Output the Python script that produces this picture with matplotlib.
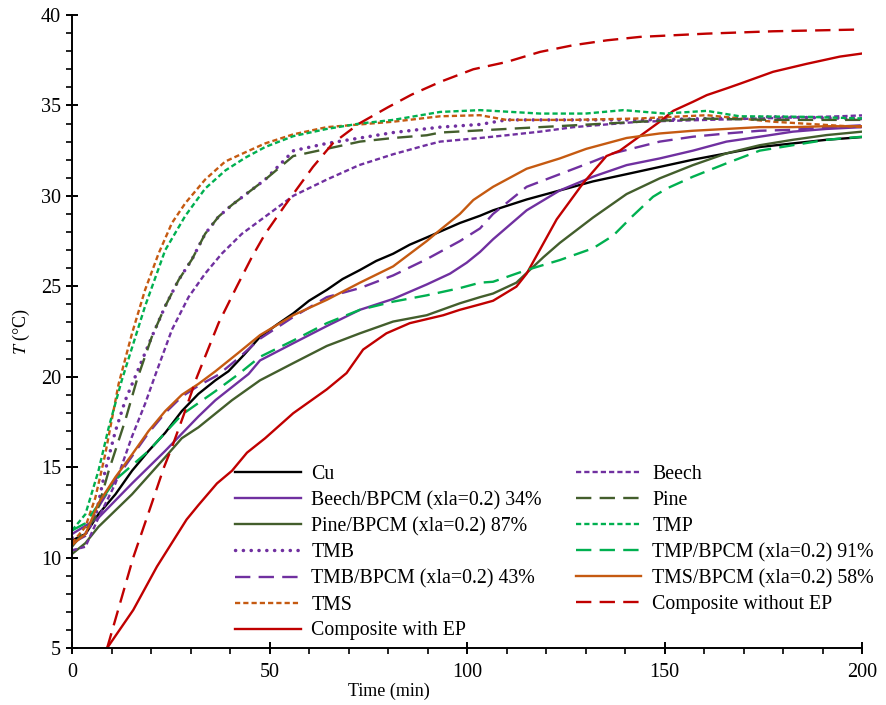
import matplotlib
matplotlib.use("Agg")
import matplotlib.pyplot as plt

plt.rcParams['font.family'] = ['Liberation Serif', 'DejaVu Serif']
plt.rcParams['mathtext.fontset'] = 'stix'

# ---------------- data (time in min, temperature in °C) ----------------
t_cu = [0, 3.4, 6.7, 11, 15.2, 19.4, 23.6, 27.8, 32, 36.3, 39.6, 43.5, 47.6, 52, 56, 60, 64.5, 68.5, 72.9, 77,
        81.3, 85.5, 89.8, 94, 98.2, 103.3, 106.6, 115.1, 123.5, 131.9, 140.4, 148.8, 157.2, 165.7, 174.1, 182.5, 191, 200]
T_cu = [10.95, 11.3, 12.4, 13.5, 14.8, 15.9, 16.9, 18.1, 19.05, 19.8, 20.3, 21.2, 22.2, 22.9, 23.5, 24.2, 24.8, 25.4,
        25.9, 26.4, 26.8, 27.3, 27.7, 28.1, 28.5, 28.9, 29.2, 29.8, 30.3, 30.8, 31.2, 31.6, 32.0, 32.35, 32.7, 32.9, 33.1, 33.25]

t_beech = [0, 3.4, 6.7, 11, 15.2, 18.5, 21.1, 25.3, 29.5, 33.7, 37.9, 43, 48.9, 56, 64.5, 72.7, 81.3, 89.6, 93.2,
           103.3, 110, 118.5, 127, 135.4, 143.8, 152.2, 160.7, 169, 177.5, 186, 194.4, 200]
T_beech = [10.4, 10.6, 12.2, 14.1, 16.7, 18.5, 20.1, 22.6, 24.4, 25.7, 26.8, 27.9, 28.85, 30.0, 30.9, 31.7, 32.3, 32.8,
           33.0, 33.2, 33.35, 33.55, 33.8, 33.95, 34.1, 34.15, 34.2, 34.25, 34.3, 34.35, 34.4, 34.45]

t_beech_b = [0, 6.7, 15.2, 23.6, 32, 36.3, 44.7, 47.6, 56, 64.5, 72.9, 81.3, 89.8, 95.7, 99.9, 103.3, 106.6, 115.1,
             123.5, 131.9, 140.4, 148.8, 157.2, 165.7, 174.1, 182.5, 191, 200]
T_beech_b = [11.3, 12.2, 14.1, 15.9, 17.8, 18.7, 20.15, 20.9, 21.85, 22.8, 23.7, 24.3, 25.1, 25.7, 26.3, 26.9, 27.6,
             29.2, 30.3, 31.06, 31.7, 32.07, 32.5, 33.0, 33.27, 33.55, 33.7, 33.8]

t_pine_b = [0, 3.4, 6.7, 15.2, 23.6, 27.8, 32, 40.5, 47.6, 56, 64.5, 72.9, 81.3, 89.8, 98.2, 103.3, 106.6, 112.5,
            119.3, 123.5, 131.9, 140.4, 148.8, 157.2, 165.7, 174.1, 182.5, 191, 200]
T_pine_b = [10.2, 10.8, 11.7, 13.5, 15.55, 16.6, 17.2, 18.7, 19.8, 20.75, 21.7, 22.4, 23.05, 23.4, 24.06, 24.4, 24.6,
            25.2, 26.6, 27.4, 28.8, 30.1, 30.97, 31.7, 32.35, 32.8, 33.1, 33.36, 33.55]

t_pine = [0, 5.9, 9.3, 13.5, 16.4, 20.2, 23.6, 27, 30.4, 33.7, 37.1, 40.5, 44.7, 48.9, 56, 64.5, 72.9, 81.3, 89.8,
          93.2, 110, 127, 143.8, 160.7, 177.5, 200]
T_pine = [10.6, 12.2, 14.8, 17.6, 19.8, 22.2, 23.9, 25.35, 26.5, 27.9, 28.85, 29.5, 30.2, 30.9, 32.2, 32.6, 33.0,
          33.2, 33.35, 33.5, 33.7, 33.9, 34.1, 34.27, 34.2, 34.2]

t_tmp = [0, 3.4, 6.7, 9.3, 12.6, 18.5, 23.6, 28.7, 33.7, 38.8, 43.8, 48.9, 56, 64.5, 72.9, 81.3, 93.2, 103.3, 118.5,
         130, 139.6, 150, 160.7, 169, 186, 200]
T_tmp = [11.5, 12.4, 14.8, 17.2, 19.8, 23.9, 27.0, 28.9, 30.4, 31.4, 32.1, 32.7, 33.3, 33.7, 34.0, 34.2, 34.64, 34.74,
         34.55, 34.55, 34.74, 34.55, 34.7, 34.4, 34.37, 34.28]

t_tmb = [0, 3.4, 5.9, 8.4, 11, 13.5, 16, 20.2, 23.6, 27, 30.4, 33.7, 37.1, 40.5, 44.7, 48.9, 56.1, 64.5, 72.9, 81.3,
         93.2, 103.3, 110, 127, 143.8, 160.7, 177.5, 200]
T_tmb = [11.1, 11.3, 12.2, 14.8, 17.0, 18.7, 20.0, 22.2, 23.9, 25.35, 26.5, 27.9, 28.85, 29.5, 30.2, 30.9, 32.5, 32.9,
         33.2, 33.5, 33.8, 33.95, 34.2, 34.2, 34.2, 34.27, 34.37, 34.27]

t_tmp_b = [0, 3.4, 11, 19.4, 27.8, 36.3, 42.2, 47.6, 56, 64.5, 72.9, 81.3, 89.8, 98.2, 103.3, 106.6, 115.1, 123.5,
           131.9, 137, 142, 147.1, 150.5, 157.2, 165.7, 174.1, 182.5, 191, 200]
T_tmp_b = [11.5, 11.9, 14.3, 15.9, 17.9, 19.2, 20.15, 21.1, 22.0, 22.96, 23.7, 24.15, 24.5, 24.9, 25.2, 25.25, 25.9,
           26.45, 27.1, 27.8, 28.9, 29.95, 30.4, 31.06, 31.8, 32.5, 32.8, 33.1, 33.27]

t_tmb_b = [0, 3.4, 6.7, 11, 15.2, 19.4, 23.6, 27.8, 32, 37, 42, 47.6, 56, 64.5, 72.9, 81.3, 89.8, 98.2, 103.3, 106.6,
           115.1, 123.5, 131.9, 137, 148.8, 157.2, 165.7, 174.1, 182.5, 191, 200]
T_tmb_b = [10.8, 11.2, 12.8, 14.3, 15.6, 16.9, 18.0, 18.9, 19.5, 20.1, 21.0, 22.1, 23.3, 24.4, 24.9, 25.6, 26.5, 27.5,
           28.2, 29.0, 30.5, 31.2, 31.9, 32.35, 33.0, 33.27, 33.45, 33.6, 33.65, 33.8, 33.9]

t_tms_b = [0, 3.4, 6.7, 11, 15.2, 19.4, 23.6, 27.8, 32, 36.3, 42, 47.6, 56, 64.5, 72.9, 81.3, 89.8, 93.1, 98.2, 101.6,
           106.6, 115.1, 123.5, 130.2, 140.4, 148.8, 157.2, 165.7, 174.1, 182.5, 191, 200]
T_tms_b = [10.7, 11.3, 13.0, 14.45, 15.7, 17.0, 18.1, 19.0, 19.6, 20.3, 21.3, 22.3, 23.4, 24.25, 25.2, 26.1, 27.5, 28.1,
           29.0, 29.77, 30.5, 31.5, 32.07, 32.6, 33.2, 33.45, 33.6, 33.7, 33.8, 33.8, 33.85, 33.85]

t_tms = [0, 3.4, 5.9, 8.4, 11.8, 15.2, 18.5, 21.9, 25.3, 28.7, 33.7, 38.8, 43.8, 48.9, 56, 64.5, 72.9, 81.3, 93.2,
         103.3, 110, 127, 143.8, 160.7, 169, 177.5, 200]
T_tms = [10.8, 11.7, 13.3, 15.7, 19.6, 22.4, 24.8, 26.8, 28.5, 29.6, 30.9, 31.9, 32.4, 32.9, 33.4, 33.8, 33.95, 34.1,
         34.4, 34.46, 34.2, 34.2, 34.28, 34.46, 34.28, 34.1, 33.8]

t_comp_no = [8.9, 15.5, 20.2, 23.3, 25.3, 28.3, 31.6, 37.1, 41.7, 45.5, 48.9, 54, 61, 66, 72.7, 80, 86, 93.2, 101.6,
             110, 118.5, 126.9, 135.4, 143.8, 160.7, 177.5, 200]
T_comp_no = [5.0, 10.0, 13.0, 15.0, 16.1, 17.9, 19.97, 22.96, 24.98, 26.6, 27.9, 29.5, 31.6, 32.9, 34.0, 34.9, 35.6,
             36.3, 37.0, 37.4, 37.96, 38.33, 38.6, 38.79, 38.97, 39.1, 39.2]

t_comp_ep = [8.9, 15.5, 21.5, 29, 32, 36.7, 40.5, 44.3, 48.9, 56, 64.5, 69.5, 73.7, 79.6, 85.5, 94, 98.2, 103.3, 106.6,
             112.5, 115.1, 118.4, 122.7, 129.4, 135.3, 138.7, 148.8, 152.2, 157.2, 160.7, 165.7, 169.1, 177.5, 186,
             194.4, 200]
T_comp_ep = [5.0, 7.1, 9.5, 12.1, 12.9, 14.1, 14.8, 15.8, 16.6, 17.98, 19.3, 20.2, 21.5, 22.4, 22.96, 23.4, 23.7, 24.0,
             24.2, 24.98, 25.7, 27.0, 28.7, 30.7, 32.2, 32.5, 34.1, 34.7, 35.2, 35.57, 35.94, 36.2, 36.86, 37.3, 37.7,
             37.87]

x_ticks = [0, 50, 100, 150, 200]
y_ticks = [5, 10, 15, 20, 25, 30, 35, 40]

# ---------------- styles ----------------
PURPLE = '#7030A0'
DGREEN = '#435E2C'
GREEN = '#00B050'
ORANGE = '#C55A11'
RED = '#C00000'
SHORT = (2.2, 1.3)
LONG = (6.5, 3.5)
DOT = (0.05, 2.2)

series = [
    ('Cu', t_cu, T_cu, 'black', None, 1.7),
    ('Beech/BPCM (xla=0.2) 34%', t_beech_b, T_beech_b, PURPLE, None, 1.7),
    ('Pine/BPCM (xla=0.2) 87%', t_pine_b, T_pine_b, DGREEN, None, 1.7),
    ('TMB', t_tmb, T_tmb, PURPLE, DOT, 2.5),
    ('TMB/BPCM (xla=0.2) 43%', t_tmb_b, T_tmb_b, PURPLE, LONG, 1.7),
    ('TMS', t_tms, T_tms, ORANGE, SHORT, 1.7),
    ('Composite with EP', t_comp_ep, T_comp_ep, RED, None, 1.7),
    ('Beech', t_beech, T_beech, PURPLE, SHORT, 1.7),
    ('Pine', t_pine, T_pine, DGREEN, LONG, 1.7),
    ('TMP', t_tmp, T_tmp, GREEN, SHORT, 1.7),
    ('TMP/BPCM (xla=0.2) 91%', t_tmp_b, T_tmp_b, GREEN, LONG, 1.7),
    ('TMS/BPCM (xla=0.2) 58%', t_tms_b, T_tms_b, ORANGE, None, 1.7),
    ('Composite without EP', t_comp_no, T_comp_no, RED, LONG, 1.7),
]

fig = plt.figure(figsize=(8.86, 7.05), dpi=100)
ax = fig.add_axes([72 / 886, 57 / 705, 790 / 886, 633 / 705])

handles = []
for label, tt, TT, color, dash, lw in series:
    if dash is None:
        ln, = ax.plot(tt, TT, color=color, lw=lw, label=label)
    else:
        ln, = ax.plot(tt, TT, color=color, lw=lw, label=label, linestyle=(0, dash),
                      dash_capstyle='round' if dash == DOT else 'butt')
    handles.append(ln)

ax.set_xlim(0, 200)
ax.set_ylim(5, 40)
ax.set_xticks(x_ticks)
ax.set_yticks(y_ticks)
ax.set_xticks(range(0, 201, 10), minor=True)
ax.set_yticks(range(5, 41, 1), minor=True)
ax.spines['top'].set_visible(False)
ax.spines['right'].set_visible(False)
ax.spines['left'].set_linewidth(1.4)
ax.spines['bottom'].set_linewidth(1.4)
ax.tick_params(which='major', direction='inout', length=9, width=1.4, labelsize=14.5)
ax.tick_params(axis='x', which='major', pad=6)
ax.tick_params(which='minor', direction='out', length=4, width=1.2)

ax.set_xlabel('Time (min)', fontsize=13)
ax.xaxis.set_label_coords((389 - 72) / 790, -(683 - 648) / 633)
ax.set_ylabel(r'$T$ (°C)', fontsize=13, labelpad=6)

leg = fig.legend(handles=handles, loc='upper left', bbox_to_anchor=(235 / 886, 1 - 465 / 705),
                 ncol=2, frameon=False, fontsize=14.3, handlelength=3.3, handletextpad=0.55,
                 columnspacing=1.7, labelspacing=0.35, borderpad=0, borderaxespad=0)

fig.savefig('out.png', dpi=100)
